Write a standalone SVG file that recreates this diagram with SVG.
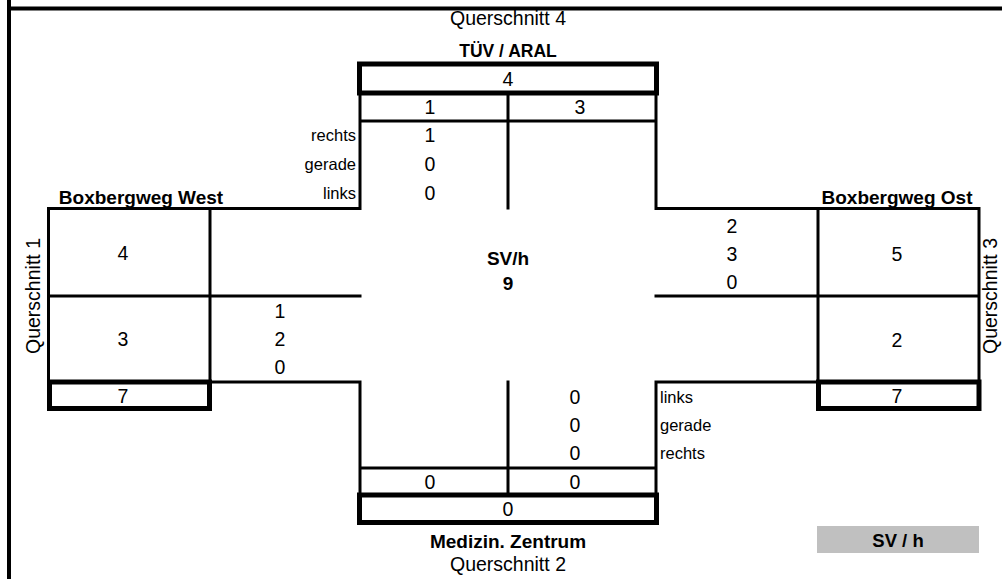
<svg xmlns="http://www.w3.org/2000/svg" width="1002" height="579" viewBox="0 0 1002 579">
<style>
.thin{stroke:#000;stroke-width:3;fill:none;stroke-linecap:square}
.thick{stroke:#000;stroke-width:5;fill:none}
.frame{stroke:#000;stroke-width:4;fill:none}
text{font-family:"Liberation Sans",Arial,sans-serif;fill:#000}
.n{font-size:19.5px;text-anchor:middle;dominant-baseline:central}
.l{font-size:19.5px;text-anchor:middle;dominant-baseline:central}
.b{font-size:19px;font-weight:bold;text-anchor:middle;dominant-baseline:central}
.s{font-size:16.5px;dominant-baseline:central}
</style>
<rect width="1002" height="579" fill="#fff"/>
<g id="frame">
<line class="frame" x1="9" y1="0" x2="9" y2="579"/>
<line class="frame" x1="7" y1="8.5" x2="1002" y2="8.5"/>
</g>
<g id="connectors">
<path class="thin" d="M360,93 V208.5 H48.5 V382 M508,93 V208 M656,93 V208.5 H979 V382 M360,121 H656 M210,208.5 V382 M48.5,296 H360 M656,296 H979 M818,208.5 V382 M210,382 H360 V495 M656,382 H818 M656,382 V495 M508,382 V495 M360,468 H656"/>
</g>
<g id="north">
<text class="l" x="508" y="18">Querschnitt 4</text>
<text class="b" x="508" y="51" style="font-size:17.5px">TÜV / ARAL</text>
<rect class="thick" x="359.5" y="64" width="297" height="29"/>
<text class="n" x="508" y="79">4</text>
<text class="n" x="430" y="107">1</text>
<text class="n" x="580" y="107">3</text>
<text class="s" x="356" y="135" text-anchor="end">rechts</text>
<text class="s" x="356" y="164" text-anchor="end">gerade</text>
<text class="s" x="356" y="193" text-anchor="end">links</text>
<text class="n" x="430" y="135">1</text>
<text class="n" x="430" y="164">0</text>
<text class="n" x="430" y="193">0</text>
</g>
<g id="west">
<text class="b" x="141" y="197">Boxbergweg West</text>
<text class="l" transform="translate(33,296) rotate(-90)">Querschnitt 1</text>
<text class="n" x="123" y="253">4</text>
<text class="n" x="123" y="339">3</text>
<text class="n" x="280" y="311">1</text>
<text class="n" x="280" y="339">2</text>
<text class="n" x="280" y="367">0</text>
<rect class="thick" x="49.5" y="382" width="160" height="26.5"/>
<text class="n" x="123" y="396">7</text>
</g>
<g id="center">
<text class="b" x="508" y="258">SV/h</text>
<text class="b" x="508" y="283">9</text>
</g>
<g id="east">
<text class="b" x="897" y="197">Boxbergweg Ost</text>
<text class="l" transform="translate(990,296) rotate(-90)">Querschnitt 3</text>
<text class="n" x="732" y="226">2</text>
<text class="n" x="732" y="254">3</text>
<text class="n" x="732" y="282">0</text>
<text class="n" x="897" y="254">5</text>
<text class="n" x="897" y="340">2</text>
<rect class="thick" x="818.5" y="382" width="160.5" height="26.5"/>
<text class="n" x="897" y="396">7</text>
</g>
<g id="south">
<text class="n" x="575" y="397">0</text>
<text class="n" x="575" y="425">0</text>
<text class="n" x="575" y="453">0</text>
<text class="s" x="660" y="397">links</text>
<text class="s" x="660" y="425">gerade</text>
<text class="s" x="660" y="453">rechts</text>
<text class="n" x="430" y="482">0</text>
<text class="n" x="575" y="482">0</text>
<rect class="thick" x="359.5" y="495" width="297" height="27.5"/>
<text class="n" x="508" y="509">0</text>
<text class="b" x="508" y="541">Medizin. Zentrum</text>
<text class="l" x="508" y="564">Querschnitt 2</text>
</g>
<g id="legend">
<rect x="817" y="526" width="162" height="27" fill="#c0c0c0"/>
<text class="b" x="898" y="540" style="font-size:18.5px">SV / h</text>
</g>
</svg>
